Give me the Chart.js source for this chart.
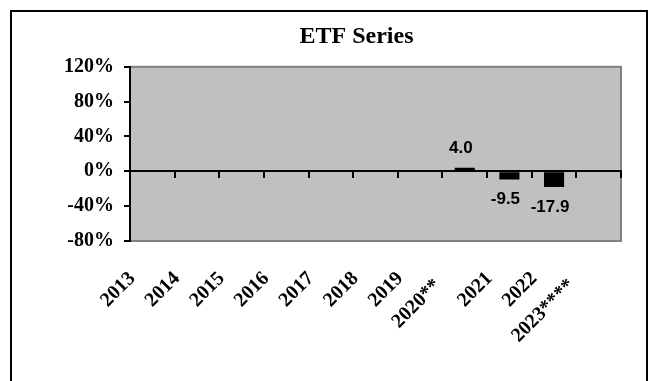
<!DOCTYPE html>
<html>
<head>
<meta charset="utf-8">
<script src="https://cdn.jsdelivr.net/npm/chart.js@4"></script>
<style>
  html, body { margin: 0; padding: 0; background: #ffffff; }
  #wrap { width: 650px; height: 381px; }
</style>
</head>
<body>
<div id="wrap"><canvas id="chart" width="650" height="381"></canvas></div>
<script>
// Calendar years on the category axis
const years = ['2013', '2014', '2015', '2016', '2017', '2018', '2019', '2020**', '2021', '2022', '2023****'];
// Annual return of the ETF series, in percent (no value before launch / for the open year)
const annualReturn = [null, null, null, null, null, null, null, 4.0, -9.5, -17.9, null];
// Value axis range and step, in percent
const yMin = -80;
const yMax = 120;
const yStep = 40;

const serif = "'Liberation Serif', 'Times New Roman', serif";
const sans = "'Liberation Sans', Arial, sans-serif";

// Grey plot background with its thin darker frame, plus the outer chart frame
const frames = {
  id: 'frames',
  beforeDraw(chart) {
    const { ctx, chartArea: a } = chart;
    ctx.save();
    ctx.strokeStyle = '#000000';
    ctx.lineWidth = 2;
    ctx.strokeRect(11, 11, 636, 400);
    ctx.fillStyle = '#c0c0c0';
    ctx.fillRect(a.left, a.top, a.right - a.left, a.bottom - a.top);
    ctx.strokeStyle = '#808080';
    ctx.lineWidth = 2;
    ctx.strokeRect(a.left, a.top, a.right - a.left, a.bottom - a.top);
    ctx.restore();
  }
};

// Value printed beyond the end of each bar
const barValues = {
  id: 'barValues',
  afterDatasetsDraw(chart) {
    const { ctx } = chart;
    const meta = chart.getDatasetMeta(0);
    ctx.save();
    ctx.font = 'bold 17px ' + sans;
    ctx.fillStyle = '#000000';
    ctx.textAlign = 'center';
    ctx.textBaseline = 'middle';
    meta.data.forEach((bar, i) => {
      const v = annualReturn[i];
      if (v === null || v === undefined) return;
      const y = v >= 0 ? bar.y - 20 : bar.y + 20;
      ctx.fillText(v.toFixed(1), bar.x - 4, y);
    });
    ctx.restore();
  }
};

new Chart(document.getElementById('chart'), {
  type: 'bar',
  data: {
    labels: years,
    datasets: [{
      data: annualReturn,
      backgroundColor: '#000000',
      borderWidth: 0,
      barPercentage: 0.45,
      categoryPercentage: 1.0
    }]
  },
  options: {
    responsive: false,
    animation: false,
    events: [],
    layout: { padding: { left: 63, right: 0, top: 22, bottom: 0 } },
    plugins: {
      legend: { display: false },
      tooltip: { enabled: false },
      title: {
        display: true,
        text: 'ETF Series',
        color: '#000000',
        font: { family: serif, size: 24, weight: 'bold', lineHeight: 1.2 },
        padding: { top: 0, bottom: 16 }
      }
    },
    scales: {
      x: {
        position: 'bottom',
        offset: true,
        grid: { display: false, drawTicks: false, offset: true },
        border: { display: false },
        ticks: {
          color: '#000000',
          autoSkip: false,
          minRotation: 45,
          maxRotation: 45,
          padding: 26,
          labelOffset: -20,
          font: { family: serif, size: 20, weight: 'bold' },
          // footnoted years hang a little further down the slope
          callback: (v, i) => (years[i].length > 4 ? years[i] + '\u2002' : years[i])
        },
        afterFit(scale) {
          scale.height = 140;
          scale.paddingLeft = 0;
          scale.paddingRight = 0;
        }
      },
      // zero line with its category tick marks
      x2: {
        type: 'category',
        labels: years,
        position: { y: 0 },
        offset: true,
        grid: { display: true, drawOnChartArea: false, drawTicks: true, tickLength: 6, color: '#000000', lineWidth: 2, offset: true },
        border: { display: true, color: '#000000', width: 2 },
        ticks: { display: false },
        afterFit(scale) {
          scale.height = 0;
          scale.paddingLeft = 0;
          scale.paddingRight = 0;
        }
      },
      y: {
        min: yMin,
        max: yMax,
        grid: { drawOnChartArea: false, drawTicks: true, tickLength: 6, color: '#000000', lineWidth: 2 },
        border: { display: true, color: '#000000', width: 2 },
        ticks: {
          stepSize: yStep,
          color: '#000000',
          padding: 10,
          font: { family: serif, size: 20, weight: 'bold' },
          callback: (v) => v + '%'
        },
        afterFit(scale) { scale.width = 67; }
      },
      // empty strip to the right of the plot
      yRight: {
        position: 'right',
        display: true,
        grid: { display: false, drawTicks: false },
        border: { display: false },
        ticks: { display: false },
        afterFit(scale) { scale.width = 29; }
      }
    }
  },
  plugins: [frames, barValues]
});
</script>
</body>
</html>
